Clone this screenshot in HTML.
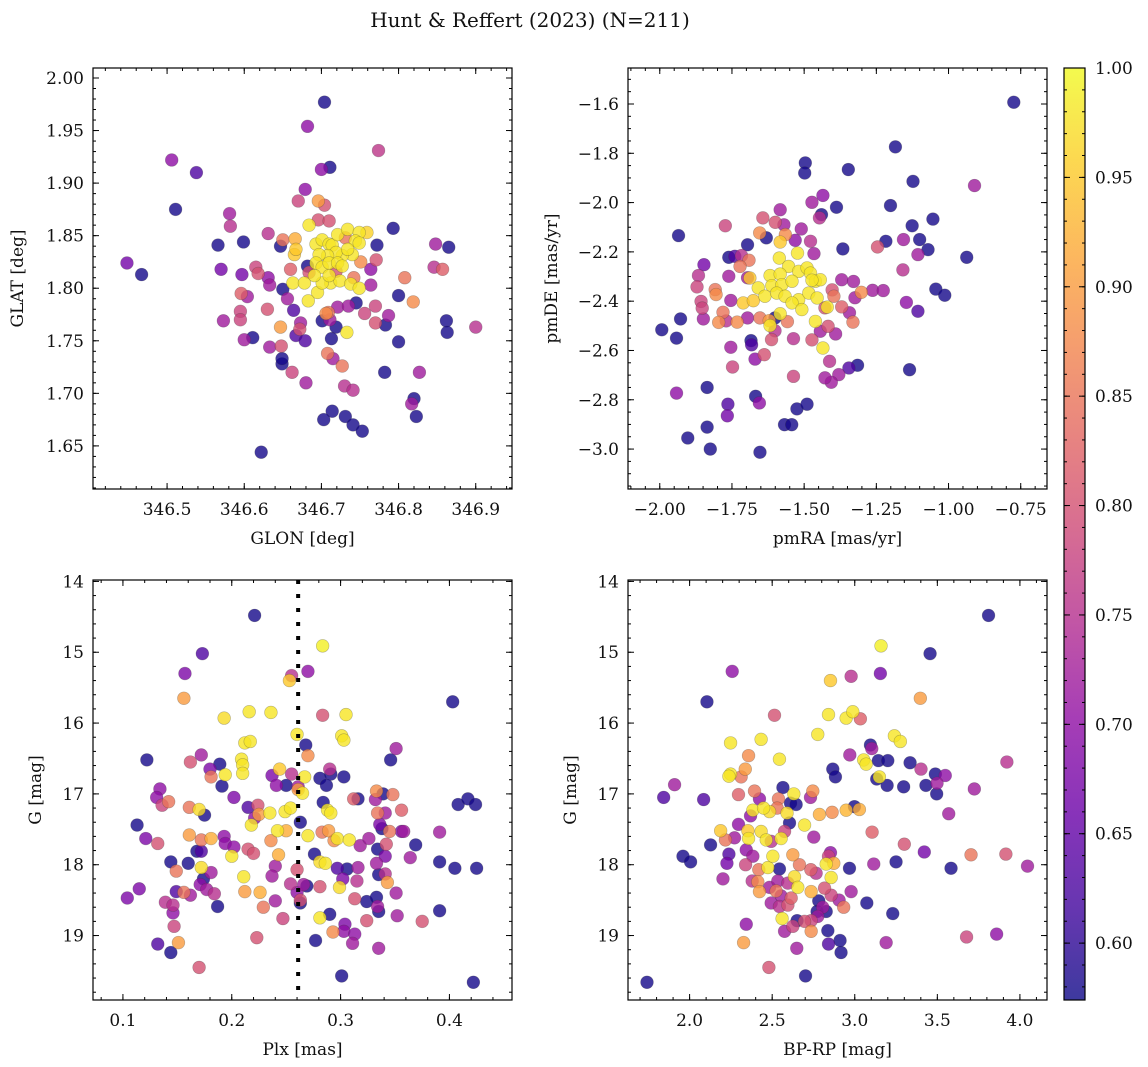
<!DOCTYPE html>
<html><head><meta charset="utf-8"><title>Hunt & Reffert (2023)</title>
<style>
html,body{margin:0;padding:0;background:#fff;}
svg{display:block;font-family:"DejaVu Serif","Liberation Serif",serif;}
</style></head>
<body>
<svg id="fig" width="1148" height="1067" viewBox="0 0 1148 1067" xmlns="http://www.w3.org/2000/svg">
<defs>
<linearGradient id="plasmaGrad" x1="0" y1="1" x2="0" y2="0">
<stop offset="0" stop-color="#0d0887"/><stop offset="0.1" stop-color="#41049d"/><stop offset="0.2" stop-color="#6a00a8"/><stop offset="0.3" stop-color="#8f0da4"/><stop offset="0.4" stop-color="#b12a90"/><stop offset="0.5" stop-color="#cc4778"/><stop offset="0.6" stop-color="#e16462"/><stop offset="0.7" stop-color="#f2844b"/><stop offset="0.8" stop-color="#fca636"/><stop offset="0.9" stop-color="#fcce25"/><stop offset="1" stop-color="#f0f921"/>
</linearGradient>
</defs>
<text x="530" y="27" font-size="20" text-anchor="middle" fill="#111">Hunt &amp; Reffert (2023) (N=211)</text>
</svg>
<script>
// ---- data: [x, y, membership probability] ----
const skyPoints = [
[346.704,1.977,.58],[346.682,1.954,.70],[346.774,1.931,.76],[346.506,1.922,.70],[346.538,1.910,.63],[346.511,1.875,.58],[346.448,1.824,.67],[346.467,1.813,.58],
[346.700,1.913,.70],[346.711,1.915,.58],[346.679,1.894,.70],[346.670,1.883,.78],[346.696,1.883,.90],[346.704,1.879,.80],[346.581,1.871,.72],[346.582,1.859,.75],
[346.631,1.852,.75],[346.566,1.841,.58],[346.599,1.844,.58],[346.647,1.840,.58],[346.650,1.846,.85],[346.666,1.847,.92],[346.793,1.857,.58],[346.772,1.841,.58],
[346.848,1.842,.72],[346.865,1.839,.58],[346.846,1.820,.75],[346.857,1.818,.82],[346.570,1.818,.67],[346.597,1.813,.67],[346.615,1.820,.78],[346.618,1.814,.80],
[346.631,1.810,.70],[346.633,1.803,.72],[346.596,1.795,.82],[346.604,1.792,.72],[346.595,1.778,.78],[346.573,1.769,.72],[346.595,1.770,.78],[346.630,1.780,.80],
[346.600,1.751,.72],[346.611,1.753,.58],[346.650,1.799,.58],[346.656,1.790,.72],[346.664,1.779,.63],[346.647,1.763,.90],[346.673,1.767,.72],[346.672,1.761,.80],
[346.667,1.755,.63],[346.679,1.750,.63],[346.633,1.744,.72],[346.648,1.745,.80],[346.649,1.728,.58],[346.662,1.720,.78],[346.680,1.710,.72],[346.701,1.769,.58],
[346.711,1.770,.72],[346.719,1.763,.58],[346.713,1.752,.58],[346.709,1.777,.85],[346.733,1.758,.98],[346.708,1.738,.85],[346.715,1.733,.72],[346.727,1.726,.85],
[346.721,1.782,.72],[346.735,1.783,.72],[346.745,1.786,.58],[346.756,1.776,.78],[346.770,1.783,.78],[346.770,1.767,.80],[346.783,1.765,.58],[346.787,1.774,.72],
[346.800,1.793,.58],[346.819,1.787,.88],[346.808,1.810,.85],[346.800,1.749,.58],[346.862,1.769,.58],[346.863,1.758,.58],[346.900,1.763,.75],[346.827,1.720,.72],
[346.820,1.695,.58],[346.817,1.690,.72],[346.823,1.678,.58],[346.782,1.720,.58],[346.730,1.707,.75],[346.741,1.703,.75],[346.714,1.683,.58],[346.703,1.675,.58],
[346.731,1.678,.58],[346.741,1.670,.58],[346.753,1.664,.58],[346.622,1.644,.58],[346.649,1.733,.58],[346.771,1.827,.80],[346.764,1.818,.70],[346.764,1.803,.72],
[346.682,1.821,.58],[346.696,1.865,.80],[346.710,1.864,.80],[346.731,1.848,.85],[346.751,1.825,.88],[346.742,1.810,.85],[346.719,1.816,.80],[346.660,1.818,.82],
[346.684,1.815,.80],[346.706,1.776,.88],
[346.684,1.860,.98],[346.693,1.842,.98],[346.701,1.846,.98],[346.710,1.842,.98],[346.714,1.841,.98],[346.721,1.851,.98],[346.734,1.856,.98],[346.749,1.853,.98],
[346.759,1.853,.96],[346.744,1.845,.98],[346.740,1.832,.98],[346.727,1.831,.98],[346.719,1.834,.98],[346.708,1.831,.98],[346.697,1.832,.98],[346.693,1.824,.98],
[346.701,1.820,.98],[346.710,1.824,.98],[346.721,1.824,.98],[346.727,1.821,.98],[346.734,1.837,.98],[346.749,1.843,.98],[346.665,1.832,.95],[346.667,1.837,.95],
[346.663,1.805,.98],[346.678,1.805,.98],[346.695,1.796,.98],[346.683,1.788,.98],[346.712,1.805,.98],[346.724,1.807,.98],[346.738,1.804,.98],[346.749,1.800,.98],
[346.701,1.805,.98],[346.691,1.812,.98],[346.710,1.812,.98]
];
const pmPoints = [
[-0.774,-1.593,.58],[-1.184,-1.774,.58],[-1.496,-1.839,.58],[-1.498,-1.880,.58],[-1.347,-1.866,.58],[-1.123,-1.914,.58],[-0.910,-1.931,.72],[-1.435,-1.971,.70],
[-1.473,-1.999,.72],[-1.388,-2.019,.58],[-1.201,-2.012,.58],[-1.583,-2.029,.72],[-1.440,-2.049,.58],[-1.447,-2.062,.75],[-1.126,-2.094,.58],[-1.054,-2.067,.58],
[-1.935,-2.134,.58],[-1.643,-2.062,.80],[-1.600,-2.080,.80],[-1.570,-2.090,.72],[-1.510,-2.107,.72],[-1.773,-2.094,.78],[-1.654,-2.123,.88],[-1.565,-2.130,.88],
[-1.631,-2.143,.58],[-1.696,-2.171,.58],[-1.531,-2.153,.70],[-1.478,-2.157,.75],[-1.217,-2.157,.58],[-1.156,-2.150,.72],[-1.100,-2.150,.58],[-1.071,-2.191,.58],
[-1.106,-2.211,.72],[-1.246,-2.180,.80],[-1.366,-2.188,.58],[-1.466,-2.207,.72],[-0.937,-2.222,.58],[-1.761,-2.222,.58],[-1.740,-2.218,.63],[-1.717,-2.215,.75],
[-1.691,-2.234,.85],[-1.722,-2.259,.85],[-1.847,-2.252,.67],[-1.866,-2.296,.75],[-1.871,-2.342,.78],[-1.857,-2.401,.78],[-1.853,-2.428,.78],[-1.761,-2.299,.72],
[-1.808,-2.353,.85],[-1.805,-2.373,.88],[-1.754,-2.397,.72],[-1.781,-2.445,.85],[-1.796,-2.486,.88],[-1.849,-2.472,.72],[-1.928,-2.472,.58],[-1.993,-2.516,.58],
[-1.942,-2.550,.58],[-1.770,-2.480,.75],[-1.732,-2.485,.88],[-1.696,-2.468,.72],[-1.696,-2.305,.72],[-1.684,-2.560,.58],[-1.682,-2.577,.63],[-1.754,-2.587,.72],
[-1.670,-2.635,.70],[-1.638,-2.617,.80],[-1.748,-2.667,.78],[-1.653,-2.468,.85],[-1.621,-2.479,.90],[-1.601,-2.468,.58],[-1.601,-2.520,.75],[-1.613,-2.556,.80],
[-1.558,-2.483,.85],[-1.537,-2.552,.75],[-1.473,-2.557,.80],[-1.444,-2.522,.72],[-1.417,-2.502,.80],[-1.391,-2.533,.72],[-1.331,-2.485,.85],[-1.343,-2.447,.72],
[-1.428,-2.427,.80],[-1.370,-2.423,.82],[-1.324,-2.386,.72],[-1.403,-2.354,.80],[-1.397,-2.380,.85],[-1.370,-2.313,.72],[-1.329,-2.320,.72],[-1.302,-2.364,.88],
[-1.263,-2.356,.72],[-1.226,-2.357,.72],[-1.412,-2.644,.75],[-1.380,-2.698,.72],[-1.406,-2.729,.72],[-1.428,-2.711,.72],[-1.345,-2.671,.63],[-1.315,-2.660,.58],
[-1.537,-2.705,.78],[-1.568,-2.901,.58],[-1.543,-2.901,.58],[-1.525,-2.837,.58],[-1.490,-2.818,.58],[-1.668,-2.786,.58],[-1.655,-2.813,.70],[-1.764,-2.818,.63],
[-1.766,-2.865,.67],[-1.836,-2.750,.58],[-1.942,-2.773,.70],[-1.836,-2.911,.58],[-1.903,-2.955,.58],[-1.825,-3.000,.58],[-1.653,-3.013,.58],[-1.158,-2.273,.75],
[-1.146,-2.405,.70],[-1.106,-2.441,.63],[-1.044,-2.351,.58],[-1.013,-2.376,.58],[-1.135,-2.678,.58],
[-1.583,-2.160,.95],[-1.523,-2.205,.98],[-1.586,-2.225,.98],[-1.554,-2.259,.98],[-1.519,-2.279,.98],[-1.490,-2.265,.98],[-1.618,-2.296,.98],[-1.583,-2.290,.98],
[-1.688,-2.306,.95],[-1.659,-2.346,.98],[-1.612,-2.337,.98],[-1.577,-2.333,.98],[-1.542,-2.319,.98],[-1.478,-2.286,.98],[-1.461,-2.319,.98],[-1.444,-2.313,.98],
[-1.636,-2.380,.98],[-1.595,-2.367,.98],[-1.566,-2.380,.98],[-1.519,-2.394,.98],[-1.484,-2.367,.98],[-1.455,-2.387,.98],[-1.711,-2.407,.95],[-1.676,-2.398,.95],
[-1.583,-2.451,.98],[-1.542,-2.407,.98],[-1.508,-2.434,.98],[-1.461,-2.482,.98],[-1.420,-2.424,.98],[-1.618,-2.499,.98],[-1.435,-2.590,.98],[-1.473,-2.315,.98]
];
const plxPoints = [
[0.221,14.48,.58],[0.2835,14.91,.99],[0.173,15.02,.63],[0.157,15.30,.68],[0.270,15.27,.70],[0.255,15.33,.75],[0.253,15.40,.95],[0.156,15.65,.90],
[0.403,15.70,.58],[0.2835,15.89,.80],[0.193,15.93,.97],[0.216,15.84,.98],[0.236,15.85,.98],[0.305,15.88,.98],[0.260,16.16,.98],[0.301,16.18,.98],
[0.303,16.24,.98],[0.212,16.28,.98],[0.217,16.26,.98],[0.268,16.31,.58],[0.351,16.36,.72],[0.270,16.46,.88],[0.122,16.52,.58],[0.162,16.55,.80],
[0.172,16.45,.72],[0.209,16.51,.98],[0.210,16.59,.98],[0.210,16.71,.98],[0.189,16.58,.58],[0.180,16.65,.68],[0.181,16.76,.85],[0.194,16.73,.98],
[0.191,16.89,.58],[0.244,16.65,.95],[0.237,16.74,.68],[0.241,16.88,.70],[0.250,16.88,.58],[0.255,16.72,.75],[0.261,16.90,.72],[0.267,16.76,.98],
[0.281,16.78,.58],[0.290,16.65,.75],[0.291,16.72,.58],[0.287,16.88,.58],[0.303,16.76,.58],[0.346,16.52,.58],[0.134,16.93,.70],[0.131,17.05,.70],
[0.142,17.11,.85],[0.136,17.16,.78],[0.161,17.19,.85],[0.170,17.22,.97],[0.175,17.30,.58],[0.202,17.05,.68],[0.215,17.19,.63],[0.224,17.16,.80],
[0.225,17.29,.90],[0.221,17.34,.70],[0.218,17.44,.98],[0.235,17.27,.98],[0.249,17.25,.98],[0.254,17.20,.98],[0.261,16.94,.90],[0.265,16.99,.98],
[0.263,17.40,.58],[0.284,17.12,.58],[0.288,17.23,.98],[0.291,17.27,.98],[0.312,17.07,.82],[0.316,17.07,.58],[0.333,16.96,.88],[0.332,17.08,.72],
[0.339,17.00,.58],[0.348,17.01,.85],[0.356,17.23,.82],[0.334,17.27,.85],[0.341,17.27,.72],[0.336,17.43,.68],[0.338,17.49,.58],[0.345,17.53,.85],
[0.356,17.53,.68],[0.358,17.53,.72],[0.391,17.54,.72],[0.408,17.15,.58],[0.417,17.07,.58],[0.424,17.15,.58],[0.113,17.44,.58],[0.121,17.63,.68],
[0.132,17.70,.80],[0.161,17.58,.90],[0.172,17.65,.85],[0.181,17.63,.92],[0.193,17.60,.70],[0.194,17.70,.70],[0.202,17.75,.70],[0.200,17.88,.98],
[0.215,17.78,.80],[0.220,17.84,.80],[0.236,17.66,.88],[0.242,17.52,.98],[0.250,17.52,.92],[0.243,17.86,.92],[0.270,17.59,.98],[0.283,17.54,.85],
[0.289,17.52,.90],[0.294,17.66,.88],[0.297,17.63,.98],[0.308,17.65,.98],[0.318,17.73,.72],[0.326,17.63,.72],[0.334,17.78,.58],[0.342,17.71,.80],
[0.341,17.88,.68],[0.364,17.90,.72],[0.369,17.72,.58],[0.391,17.96,.58],[0.405,18.05,.58],[0.425,18.05,.58],[0.144,17.96,.58],[0.149,18.09,.85],
[0.160,17.98,.58],[0.168,17.81,.58],[0.172,17.81,.63],[0.172,18.04,.97],[0.181,18.11,.72],[0.174,18.20,.58],[0.211,18.17,.98],[0.212,18.38,.90],
[0.226,18.39,.92],[0.240,18.02,.72],[0.237,18.16,.72],[0.276,17.85,.58],[0.281,17.96,.97],[0.286,17.98,.98],[0.297,18.05,.63],[0.306,18.06,.58],
[0.302,18.20,.68],[0.316,18.04,.72],[0.315,18.23,.75],[0.333,17.98,.72],[0.335,18.14,.58],[0.341,18.13,.75],[0.343,18.25,.90],[0.260,18.07,.80],
[0.254,18.27,.75],[0.266,18.28,.72],[0.260,18.39,.70],[0.269,18.30,.58],[0.281,18.31,.80],[0.299,18.32,.97],[0.104,18.47,.68],[0.115,18.34,.68],
[0.139,18.53,.75],[0.146,18.57,.75],[0.146,18.68,.70],[0.149,18.38,.63],[0.156,18.39,.85],[0.162,18.43,.72],[0.171,18.28,.70],[0.177,18.35,.72],
[0.184,18.41,.75],[0.187,18.59,.58],[0.147,18.87,.78],[0.240,18.51,.72],[0.229,18.60,.85],[0.247,18.76,.78],[0.263,18.54,.58],[0.263,18.50,.80],
[0.313,18.48,.80],[0.324,18.52,.58],[0.333,18.46,.58],[0.334,18.59,.72],[0.335,18.66,.58],[0.351,18.40,.72],[0.352,18.72,.72],[0.375,18.80,.80],
[0.391,18.65,.58],[0.324,18.79,.80],[0.281,18.75,.98],[0.290,18.70,.58],[0.293,18.95,.88],[0.304,18.84,.68],[0.303,18.94,.70],[0.313,18.98,.70],
[0.311,19.11,.72],[0.335,19.18,.72],[0.277,19.07,.58],[0.223,19.03,.80],[0.132,19.12,.63],[0.144,19.24,.58],[0.151,19.10,.90],[0.170,19.45,.80],
[0.301,19.57,.58],[0.422,19.66,.58]
];
const cmdPoints = [
[3.810,14.48,.58],[3.159,14.91,.99],[3.456,15.02,.58],[2.258,15.27,.70],[2.978,15.34,.75],[3.155,15.30,.67],[2.853,15.40,.95],[3.397,15.65,.90],
[2.105,15.70,.58],[2.514,15.89,.80],[2.841,15.88,.98],[2.948,15.93,.98],[2.988,15.84,.98],[3.034,15.94,.82],[2.776,16.16,.98],[3.240,16.18,.98],
[3.276,16.26,.98],[2.248,16.28,.98],[2.433,16.23,.98],[2.544,16.51,.98],[3.095,16.31,.58],[3.103,16.36,.72],[2.970,16.45,.72],[2.357,16.46,.88],
[3.143,16.53,.58],[3.200,16.53,.58],[3.054,16.52,.98],[3.069,16.58,.98],[3.335,16.56,.58],[3.401,16.65,.75],[3.488,16.72,.58],[3.548,16.74,.70],
[3.498,16.85,.72],[3.496,17.00,.58],[3.431,16.88,.58],[3.296,16.90,.58],[3.196,16.88,.58],[3.149,16.76,.98],[3.133,16.79,.58],[2.867,16.65,.58],
[2.883,16.76,.58],[3.921,16.55,.75],[3.724,16.93,.72],[3.569,17.28,.72],[1.909,16.87,.72],[1.843,17.05,.63],[2.085,17.08,.63],[2.248,16.72,.98],
[2.238,16.75,.98],[2.337,16.65,.90],[2.312,16.76,.85],[2.565,16.91,.58],[2.631,17.00,.98],[2.732,17.05,.72],[2.746,16.96,.88],[2.393,16.96,.85],
[2.296,17.01,.82],[2.423,17.07,.70],[2.538,17.07,.85],[2.611,17.13,.58],[2.645,17.15,.58],[2.383,17.23,.98],[2.448,17.20,.98],[2.484,17.25,.97],
[2.530,17.20,.85],[2.590,17.27,.97],[2.786,17.29,.92],[2.863,17.26,.88],[2.948,17.23,.93],[2.998,17.18,.58],[3.028,17.22,.92],[2.369,17.31,.70],
[2.296,17.43,.70],[2.188,17.52,.95],[2.217,17.65,.85],[2.272,17.62,.72],[2.353,17.52,.95],[2.357,17.63,.98],[2.433,17.53,.97],[2.464,17.65,.98],
[2.494,17.67,.75],[2.554,17.63,.98],[2.575,17.53,.78],[2.605,17.41,.58],[2.696,17.44,.98],[2.752,17.61,.72],[3.105,17.54,.82],[3.300,17.71,.80],
[3.421,17.82,.67],[3.704,17.86,.85],[3.915,17.85,.80],[4.046,18.02,.72],[3.583,18.05,.58],[3.250,17.96,.58],[3.115,17.99,.72],[2.127,17.72,.58],
[1.960,17.88,.58],[2.006,17.96,.58],[2.238,17.85,.63],[2.226,17.98,.67],[2.343,17.79,.70],[2.383,17.88,.72],[2.339,18.00,.78],[2.202,18.20,.72],
[2.419,18.07,.85],[2.474,18.04,.98],[2.544,18.06,.58],[2.504,17.88,.98],[2.625,17.86,.90],[2.665,18.00,.85],[2.734,18.07,.82],[2.635,18.17,.97],
[2.655,18.32,.98],[2.766,18.12,.75],[2.853,17.83,.70],[2.841,17.88,.78],[2.827,17.99,.98],[2.873,17.98,.92],[2.857,18.18,.98],[2.968,18.05,.58],
[2.379,18.23,.75],[2.413,18.24,.88],[2.423,18.38,.90],[2.484,18.32,.72],[2.534,18.23,.72],[2.595,18.26,.75],[2.524,18.37,.85],[2.554,18.44,.72],
[2.615,18.47,.82],[2.736,18.38,.92],[2.817,18.33,.80],[2.857,18.43,.78],[2.905,18.50,.72],[2.933,18.60,.85],[2.782,18.51,.58],[2.806,18.60,.72],
[2.772,18.66,.58],[2.827,18.66,.58],[2.978,18.38,.72],[3.073,18.54,.58],[3.230,18.69,.58],[2.494,18.54,.72],[2.544,18.59,.75],[2.595,18.57,.80],
[2.560,18.76,.98],[2.651,18.79,.58],[2.625,18.87,.78],[2.696,18.80,.80],[2.736,18.79,.78],[2.776,18.73,.72],[2.575,18.94,.72],[2.736,18.94,.88],
[2.343,18.84,.70],[2.327,19.10,.90],[2.649,19.18,.72],[2.837,18.93,.58],[2.841,19.12,.63],[2.911,19.07,.58],[2.917,19.24,.58],[3.190,19.10,.72],
[3.677,19.02,.78],[3.859,18.98,.70],[2.480,19.45,.80],[2.702,19.57,.58],[1.742,19.66,.58]
];
const plxLine = 0.261;
const xTicks1 = [346.5,346.6,346.7,346.8,346.9];
const yTicks1 = [1.65,1.70,1.75,1.80,1.85,1.90,1.95,2.00];
const xTicks2 = [-2.00,-1.75,-1.50,-1.25,-1.00,-0.75];
const yTicks2 = [-3.0,-2.8,-2.6,-2.4,-2.2,-2.0,-1.8,-1.6];
const xTicks3 = [0.1,0.2,0.3,0.4];
const yTicks34 = [14,15,16,17,18,19];
const xTicks4 = [2.0,2.5,3.0,3.5,4.0];
const cbTicks = [0.60,0.65,0.70,0.75,0.80,0.85,0.90,0.95,1.00];

const NS = "http://www.w3.org/2000/svg";
const svg = document.getElementById('fig');
const stops = ["#0d0887","#41049d","#6a00a8","#8f0da4","#b12a90","#cc4778","#e16462","#f2844b","#fca636","#fcce25","#f0f921"];
const VMIN = 0.574, VMAX = 1.0;
const FS = 17;
function hex(h){return [parseInt(h.slice(1,3),16),parseInt(h.slice(3,5),16),parseInt(h.slice(5,7),16)];}
function plasma(v){
  let t=(v-VMIN)/(VMAX-VMIN); t=Math.max(0,Math.min(1,t));
  const f=t*10, i=Math.min(9,Math.floor(f)), r=f-i;
  const a=hex(stops[i]), b=hex(stops[i+1]);
  return 'rgb('+a.map((c,k)=>Math.round(c+(b[k]-c)*r)).join(',')+')';
}
function el(tag, attrs, parent){
  const e=document.createElementNS(NS,tag);
  for(const k in attrs) e.setAttribute(k,attrs[k]);
  (parent||svg).appendChild(e); return e;
}
function panel(cfg){
  const g=el('g',{});
  
  
  const sx=v=>cfg.L+(v-cfg.x0)/(cfg.x1-cfg.x0)*cfg.W;
  const sy=v=>cfg.T+(v-cfg.y0)/(cfg.y1-cfg.y0)*cfg.H;
  const tg=el('g',{stroke:'#000','stroke-width':1},g);
  
  
  const xa=Math.min(cfg.x0,cfg.x1), xb=Math.max(cfg.x0,cfg.x1);
  for(let v=Math.ceil(xa/cfg.xm-1e-6)*cfg.xm; v<=xb+1e-9; v+=cfg.xm){
    const X=sx(v);
    el('line',{x1:X,x2:X,y1:cfg.T,y2:cfg.T+3},tg); el('line',{x1:X,x2:X,y1:cfg.T+cfg.H,y2:cfg.T+cfg.H-3},tg);
  }
  const ya=Math.min(cfg.y0,cfg.y1), yb=Math.max(cfg.y0,cfg.y1);
  for(let v=Math.ceil(ya/cfg.ym-1e-6)*cfg.ym; v<=yb+1e-9; v+=cfg.ym){
    const Y=sy(v);
    el('line',{x1:cfg.L,x2:cfg.L+3,y1:Y,y2:Y},tg); el('line',{x1:cfg.L+cfg.W,x2:cfg.L+cfg.W-3,y1:Y,y2:Y},tg);
  }
  cfg.xt.forEach(v=>{
    const X=sx(v);
    el('line',{x1:X,x2:X,y1:cfg.T,y2:cfg.T+6},tg); el('line',{x1:X,x2:X,y1:cfg.T+cfg.H,y2:cfg.T+cfg.H-6},tg);
    const t=el('text',{x:X,y:cfg.T+cfg.H+26,'font-size':FS,'text-anchor':'middle',fill:'#111'},g);
    
    
    t.textContent=(v<0?'\u2212':'')+Math.abs(v).toFixed(cfg.xd);
  });
  cfg.yt.forEach(v=>{
    const Y=sy(v);
    el('line',{x1:cfg.L,x2:cfg.L+6,y1:Y,y2:Y},tg); el('line',{x1:cfg.L+cfg.W,x2:cfg.L+cfg.W-6,y1:Y,y2:Y},tg);
    const t=el('text',{x:cfg.L-9,y:Y+6,'font-size':FS,'text-anchor':'end',fill:'#111'},g);
    
    
    t.textContent=(v<0?'\u2212':'')+Math.abs(v).toFixed(cfg.yd);
  });
  const pg=el('g',{},g);
  
  
  const pts=cfg.data.slice().sort((a,b)=>a[2]-b[2]);
  pts.forEach(p=>{
    const c=el('circle',{cx:sx(p[0]),cy:sy(p[1]),r:6.4,fill:plasma(p[2]),'fill-opacity':0.8,stroke:'rgba(60,60,60,0.35)','stroke-width':0.6},pg);
    
    
  });
  if(cfg.vline!==undefined){
    const X=sx(cfg.vline);
    const l=el('line',{x1:X,x2:X,y1:cfg.T,y2:cfg.T+cfg.H,stroke:'#000','stroke-width':4,'stroke-dasharray':'4 10'},g);
    
    
  }
  const fr=el('rect',{x:cfg.L,y:cfg.T,width:cfg.W,height:cfg.H,fill:'none',stroke:'#000','stroke-width':1.2},g);
  
  
  const xl=el('text',{x:cfg.L+cfg.W/2,y:cfg.T+cfg.H+55,'font-size':FS,'text-anchor':'middle',fill:'#111'},g);
  
  
  xl.textContent=cfg.xlabel;
  const yl=el('text',{x:0,y:0,'font-size':FS,'text-anchor':'middle',fill:'#111',transform:'translate('+cfg.ylx+','+(cfg.T+cfg.H/2)+') rotate(-90)'},g);
  
  
  yl.textContent=cfg.ylabel;
}
panel({name:'sky-panel',L:93,T:68,W:419,H:421,x0:346.404,x1:346.947,y0:2.0095,y1:1.609,xm:0.02,ym:0.01,xt:xTicks1,yt:yTicks1,xd:1,yd:2,data:skyPoints,xlabel:'GLON [deg]',ylabel:'GLAT [deg]',ylx:23});
panel({name:'proper-motion-panel',L:628,T:68,W:419,H:421,x0:-2.110,x1:-0.659,y0:-1.454,y1:-3.162,xm:0.05,ym:0.05,xt:xTicks2,yt:yTicks2,xd:2,yd:1,data:pmPoints,xlabel:'pmRA [mas/yr]',ylabel:'pmDE [mas/yr]',ylx:557});
panel({name:'parallax-panel',L:93,T:580,W:419,H:420,x0:0.0725,x1:0.4575,y0:13.98,y1:19.91,xm:0.02,ym:0.2,xt:xTicks3,yt:yTicks34,xd:1,yd:0,data:plxPoints,xlabel:'Plx [mas]',ylabel:'G [mag]',ylx:41,vline:plxLine});
panel({name:'cmd-panel',L:628,T:580,W:419,H:420,x0:1.627,x1:4.164,y0:13.98,y1:19.91,xm:0.1,ym:0.2,xt:xTicks4,yt:yTicks34,xd:1,yd:0,data:cmdPoints,xlabel:'BP-RP [mag]',ylabel:'G [mag]',ylx:576});

(function(){
  const L=1064,T=68,W=21,H=932;
  const sy=v=>T+(VMAX-v)/(VMAX-VMIN)*H;
  const g=el('g',{});
  
  
  el('rect',{x:L,y:T,width:W,height:H,fill:'url(#plasmaGrad)','fill-opacity':0.8},g);
  for(let v=0.58; v<=1.0001; v+=0.01){
    const Y=sy(v);
    el('line',{x1:L,x2:L+3,y1:Y,y2:Y,stroke:'#000'},g); el('line',{x1:L+W,x2:L+W-3,y1:Y,y2:Y,stroke:'#000'},g);
  }
  cbTicks.forEach(v=>{
    const Y=sy(v);
    el('line',{x1:L,x2:L+6,y1:Y,y2:Y,stroke:'#000'},g); el('line',{x1:L+W,x2:L+W-6,y1:Y,y2:Y,stroke:'#000'},g);
    const t=el('text',{x:L+W+10,y:Y+6,'font-size':FS,fill:'#111'},g);
    
    
    t.textContent=v.toFixed(2);
  });
  el('rect',{x:L,y:T,width:W,height:H,fill:'none',stroke:'#000','stroke-width':1.2},g);
})();
</script>
</body></html>
